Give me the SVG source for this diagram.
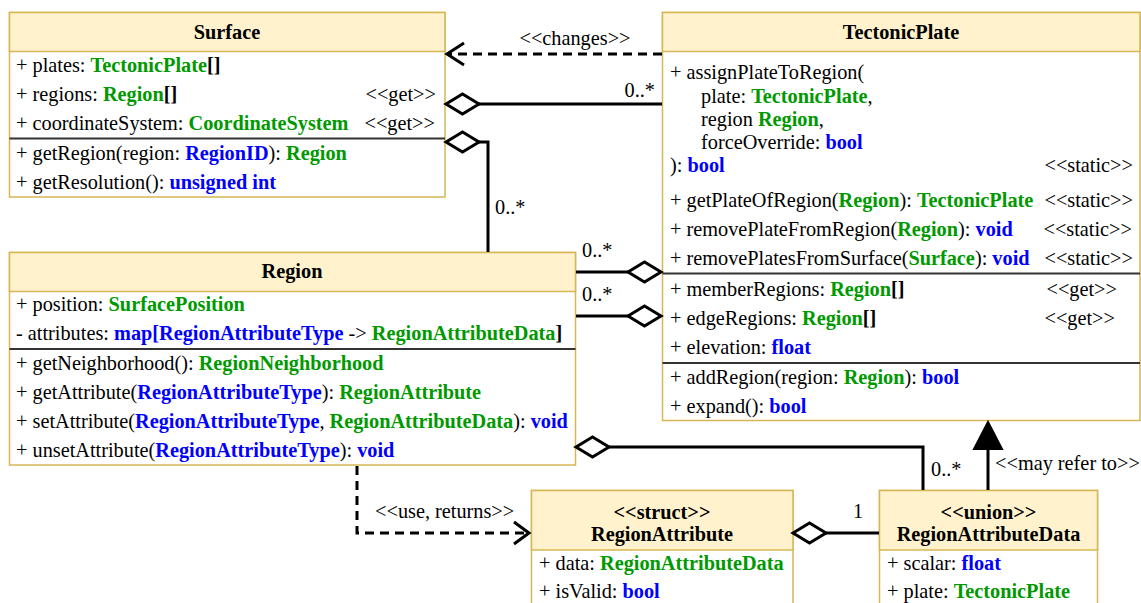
<svg xmlns="http://www.w3.org/2000/svg" width="1141" height="603" viewBox="0 0 1141 603">
<style>
text{font-family:'Liberation Serif','Times New Roman',serif;font-size:20.3px;fill:#000}
.hd{font-weight:bold;text-anchor:middle}
.g{fill:#009900;font-weight:bold}
.b{fill:#0000ff;font-weight:bold}
.k{font-weight:bold}
.end{text-anchor:end}
.mid{text-anchor:middle}
.body{fill:#ffffff;stroke:#d6b656;stroke-width:1.5}
.head{fill:#fff2cc;stroke:#d6b656;stroke-width:1.5}
.sep{stroke:#333333;stroke-width:2}
.conn{stroke:#000;stroke-width:3;fill:none}
.dash{stroke-dasharray:9 6}
.dia{fill:#ffffff;stroke:#000;stroke-width:3}
.tri{fill:#000;stroke:#000;stroke-width:2}
</style>

<g id="Surface">
<rect class="body" x="9.5" y="12.5" width="435.5" height="184.5"/>
<rect class="head" x="9.5" y="12.5" width="435.5" height="39"/>
<text class="hd" x="227" y="39">Surface</text>
<text x="16" y="72">+ plates: <tspan class="g">TectonicPlate</tspan><tspan class="k">[]</tspan></text>
<text x="16" y="101">+ regions: <tspan class="g">Region</tspan><tspan class="k">[]</tspan></text>
<text class="end" x="436" y="101">&lt;&lt;get&gt;&gt;</text>
<text x="16" y="130">+ coordinateSystem: <tspan class="g">CoordinateSystem</tspan></text>
<text class="end" x="435" y="130">&lt;&lt;get&gt;&gt;</text>
<line class="sep" x1="9.5" y1="138.5" x2="445" y2="138.5"/>
<text x="16" y="160">+ getRegion(region: <tspan class="b">RegionID</tspan>): <tspan class="g">Region</tspan></text>
<text x="16" y="189">+ getResolution(): <tspan class="b">unsigned int</tspan></text>
</g>

<g id="TectonicPlate">
<rect class="body" x="662.5" y="12.5" width="477.5" height="408"/>
<rect class="head" x="662.5" y="12.5" width="477.5" height="39"/>
<text class="hd" x="901" y="39">TectonicPlate</text>
<text x="670" y="79">+ assignPlateToRegion(</text>
<text x="701" y="103">plate: <tspan class="g">TectonicPlate</tspan>,</text>
<text x="701" y="126">region <tspan class="g">Region</tspan>,</text>
<text x="701" y="149">forceOverride: <tspan class="b">bool</tspan></text>
<text x="670" y="172">): <tspan class="b">bool</tspan></text>
<text class="end" x="1133" y="172">&lt;&lt;static&gt;&gt;</text>
<text x="670" y="207">+ getPlateOfRegion(<tspan class="g">Region</tspan>): <tspan class="g">TectonicPlate</tspan></text>
<text class="end" x="1133" y="207">&lt;&lt;static&gt;&gt;</text>
<text x="670" y="236">+ removePlateFromRegion(<tspan class="g">Region</tspan>): <tspan class="b">void</tspan></text>
<text class="end" x="1132" y="236">&lt;&lt;static&gt;&gt;</text>
<text x="670" y="265">+ removePlatesFromSurface(<tspan class="g">Surface</tspan>): <tspan class="b">void</tspan></text>
<text class="end" x="1133" y="265">&lt;&lt;static&gt;&gt;</text>
<line class="sep" x1="662.5" y1="273.5" x2="1140" y2="273.5"/>
<text x="670" y="296">+ memberRegions: <tspan class="g">Region</tspan><tspan class="k">[]</tspan></text>
<text class="end" x="1117" y="296">&lt;&lt;get&gt;&gt;</text>
<text x="670" y="325">+ edgeRegions: <tspan class="g">Region</tspan><tspan class="k">[]</tspan></text>
<text class="end" x="1115" y="325">&lt;&lt;get&gt;&gt;</text>
<text x="670" y="354">+ elevation: <tspan class="b">float</tspan></text>
<line class="sep" x1="662.5" y1="363" x2="1140" y2="363"/>
<text x="670" y="384">+ addRegion(region: <tspan class="g">Region</tspan>): <tspan class="b">bool</tspan></text>
<text x="670" y="413">+ expand(): <tspan class="b">bool</tspan></text>
</g>

<g id="Region">
<rect class="body" x="9.5" y="252.5" width="566" height="212.5"/>
<rect class="head" x="9.5" y="252.5" width="566" height="39"/>
<text class="hd" x="292" y="278">Region</text>
<text x="16" y="311">+ position: <tspan class="g">SurfacePosition</tspan></text>
<text x="16" y="340">- attributes: <tspan class="b">map[RegionAttributeType</tspan> -&gt; <tspan class="g">RegionAttributeData</tspan><tspan class="k">]</tspan></text>
<line class="sep" x1="9.5" y1="349" x2="575.5" y2="349"/>
<text x="16" y="370">+ getNeighborhood(): <tspan class="g">RegionNeighborhood</tspan></text>
<text x="16" y="399">+ getAttribute(<tspan class="b">RegionAttributeType</tspan>): <tspan class="g">RegionAttribute</tspan></text>
<text x="16" y="428">+ setAttribute(<tspan class="b">RegionAttributeType</tspan>, <tspan class="g">RegionAttributeData</tspan>): <tspan class="b">void</tspan></text>
<text x="16" y="457">+ unsetAttribute(<tspan class="b">RegionAttributeType</tspan>): <tspan class="b">void</tspan></text>
</g>

<g id="RegionAttribute">
<rect class="body" x="531.5" y="490.5" width="261.5" height="130"/>
<rect class="head" x="531.5" y="490.5" width="261.5" height="59.5"/>
<text class="hd" x="662" y="519">&lt;&lt;struct&gt;&gt;</text>
<text class="hd" x="662" y="541">RegionAttribute</text>
<text x="539" y="570">+ data: <tspan class="g">RegionAttributeData</tspan></text>
<text x="539" y="598">+ isValid: <tspan class="b">bool</tspan></text>
</g>

<g id="RegionAttributeData">
<rect class="body" x="879.5" y="490.5" width="218" height="130"/>
<rect class="head" x="879.5" y="490.5" width="218" height="59.5"/>
<text class="hd" x="988.5" y="519">&lt;&lt;union&gt;&gt;</text>
<text class="hd" x="988.5" y="541">RegionAttributeData</text>
<text x="887" y="570">+ scalar: <tspan class="b">float</tspan></text>
<text x="887" y="598">+ plate: <tspan class="g">TectonicPlate</tspan></text>
</g>

<g id="connectors">
<path class="conn dash" d="M662 54 L448 54"/>
<path class="conn" d="M464 43 L447 54 L464 65"/>
<text class="mid" x="575" y="45">&lt;&lt;changes&gt;&gt;</text>
<path class="conn" d="M479 104 L662 104"/>
<path class="dia" d="M446 104 L462.5 94 L479 104 L462.5 114 Z"/>
<text class="end" x="655" y="97">0..*</text>
<path class="conn" d="M479 142 L488 142 L488 252"/>
<path class="dia" d="M446 142 L462.5 132 L479 142 L462.5 152 Z"/>
<text x="495" y="214">0..*</text>
<path class="conn" d="M576 272 L628 272"/>
<path class="dia" d="M628 272 L644.5 262 L661 272 L644.5 282 Z"/>
<text x="582" y="257">0..*</text>
<path class="conn" d="M576 316 L628 316"/>
<path class="dia" d="M628 316 L644.5 306 L661 316 L644.5 326 Z"/>
<text x="582" y="301">0..*</text>
<path class="conn" d="M609 447 L923 447 L923 490"/>
<path class="dia" d="M576 447 L592.5 437 L609 447 L592.5 457 Z"/>
<text x="931" y="476">0..*</text>
<path class="conn" d="M988 449 L988 490"/>
<path class="tri" d="M988 422 L1002 449 L974 449 Z"/>
<text x="995" y="470">&lt;&lt;may refer to&gt;&gt;</text>
<path class="conn dash" d="M357 466 L357 533 L528 533"/>
<path class="conn" d="M514 522 L529 533 L514 544"/>
<text x="375" y="518">&lt;&lt;use, returns&gt;&gt;</text>
<path class="conn" d="M826 533 L879 533"/>
<path class="dia" d="M793 533 L809.5 523 L826 533 L809.5 543 Z"/>
<text class="mid" x="858" y="518">1</text>
</g>
</svg>
